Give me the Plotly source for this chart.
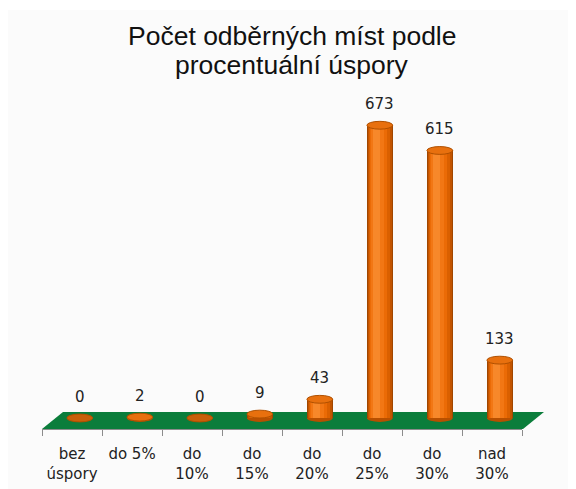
import plotly.graph_objects as go
import numpy as np

categories = ["bez<br>úspory", "do 5%", "do<br>10%", "do<br>15%", "do<br>20%",
              "do<br>25%", "do<br>30%", "nad<br>30%"]
values = [0, 2, 0, 9, 43, 673, 615, 133]
title_lines = ["Počet odběrných míst podle", "procentuální úspory"]

# the page body adds an 8px offset; figure fills the rest of the window
OFF = 8
W, H = 576 - OFF, 489 - OFF
# plot area in screen pixels
PX0, PX1, PY0, PY1 = 42, 522, 100, 429
ML, MR, MT, MB = PX0 - OFF, W - (PX1 - OFF), PY0 - OFF, H - (PY1 - OFF)
pw = PX1 - PX0
ph = PY1 - PY0
SCALE = 0.435            # px per unit
ZERO_PX = 418            # screen y of value 0
Y0 = -(PY1 - ZERO_PX) / SCALE
Y1 = (ZERO_PX - PY0) / SCALE

def sx(p):  # screen x -> paper
    return (p - PX0) / pw
def sy(p):  # screen y -> paper
    return (PY1 - p) / ph

x = np.arange(len(categories))
shift = 0.13          # 3D depth shift of the bars (category units)
bw = 0.43             # bar width
eh = 9                # half height of cylinder ellipse (value units)

fig = go.Figure()

layers = [
    (1.00, 0.00, "#A04600"),
    (0.92, 0.00, "#C25400"),
    (0.82, -0.02, "#DA6000"),
    (0.68, -0.05, "#EB6B06"),
    (0.48, -0.09, "#F27714"),
    (0.26, -0.13, "#F7882A"),
]
for frac, coff, col in layers:
    w = bw * frac
    fig.add_trace(go.Bar(
        x=x, y=values, width=[w] * len(x),
        offset=[shift + coff * bw - w / 2] * len(x),
        marker=dict(color=col, line=dict(width=0)),
        hoverinfo="skip", showlegend=False,
    ))

shapes = []
shapes.append(dict(type="rect", xref="paper", yref="paper",
                   x0=sx(0), x1=sx(600), y0=sy(10), y1=sy(-5),
                   fillcolor="white", line=dict(width=0), layer="below"))
floor = [(42, 429), (63, 412), (544, 412), (523, 429)]
path = "M " + " L ".join(f"{sx(a)},{sy(b)}" for a, b in floor) + " Z"
shapes.append(dict(type="path", xref="paper", yref="paper", path=path,
                   fillcolor="#0B7D3B", line=dict(width=0), layer="below"))

for i, v in zip(x, values):
    c = i + shift
    shapes.append(dict(type="circle", xref="x", yref="y",
                       x0=c - bw / 2, x1=c + bw / 2, y0=-eh, y1=eh,
                       fillcolor="#B85000", line=dict(width=0), layer="below"))
    shapes.append(dict(type="circle", xref="x", yref="y",
                       x0=c - bw / 2, x1=c + bw / 2, y0=v - eh, y1=v + eh,
                       fillcolor="#E8700E" if v > 0 else "#C8600A",
                       line=dict(width=1, color="#B05000"), layer="above"))

annotations = [dict(x=i + shift, y=v, xref="x", yref="y", text=str(v),
                    showarrow=False, yshift=21,
                    font=dict(family="DejaVu Sans", size=15, color="#222222"))
               for i, v in zip(x, values)]
for line, ty in zip(title_lines, [36, 65]):
    annotations.append(dict(x=sx(292), y=sy(ty), xref="paper", yref="paper",
                            xanchor="center", yanchor="middle", showarrow=False,
                            text=line,
                            font=dict(family="Liberation Sans, Arial", size=26.5,
                                      color="#111111")))

fig.update_layout(
    width=W, height=H,
    margin=dict(l=ML, r=MR, t=MT, b=MB, autoexpand=False),
    paper_bgcolor="#FBFBFB", plot_bgcolor="rgba(0,0,0,0)",
    barmode="overlay", bargap=0,
    shapes=shapes, annotations=annotations,
    xaxis=dict(range=[-0.5, 7.5], tickvals=list(x), ticktext=categories,
               showgrid=False, zeroline=False, showline=True, automargin=False,
               linecolor="#8C8C8C", linewidth=1, ticks="", ticklabelstandoff=11,
               tickfont=dict(family="DejaVu Sans", size=15, color="#222222"),
               minor=dict(tickvals=[i - 0.5 for i in range(len(categories) + 1)],
                          ticks="outside", ticklen=6, tickcolor="#8C8C8C", tickwidth=1,
                          showgrid=False)),
    yaxis=dict(range=[Y0, Y1], visible=False, showgrid=False, zeroline=False),
)

fig.write_html("out.html")
